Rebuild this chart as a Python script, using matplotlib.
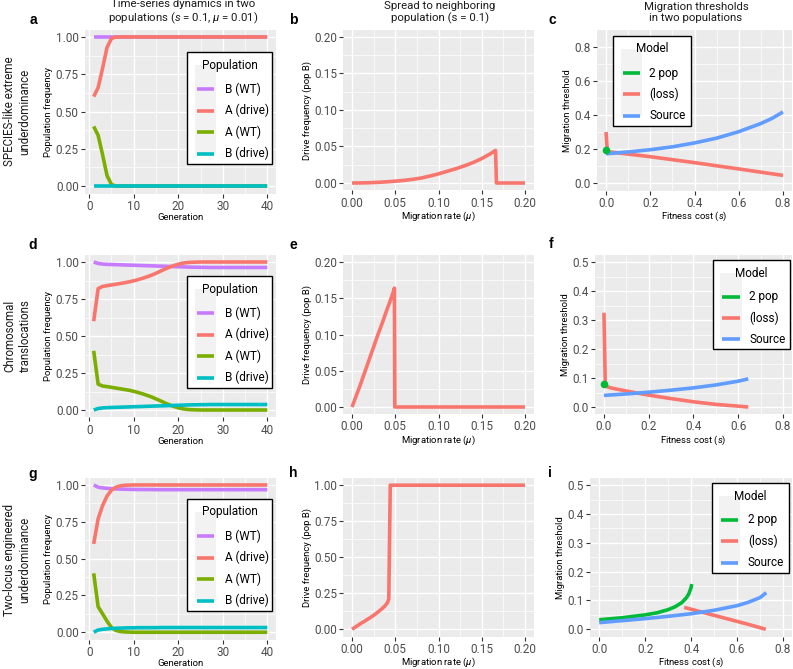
import matplotlib
matplotlib.use("Agg")
import matplotlib.pyplot as plt
from matplotlib.lines import Line2D
from matplotlib.patches import Rectangle

plt.rcParams['font.family'] = ['Roboto', 'DejaVu Sans']
plt.rcParams['mathtext.fontset'] = 'custom'
plt.rcParams['mathtext.rm'] = 'Roboto'
plt.rcParams['mathtext.it'] = 'Roboto:italic'

W, H = 793, 669

# ------------------------------------------------------------------ data
generations = list(range(1, 41))
pop_labels = ["B (WT)", "A (drive)", "A (WT)", "B (drive)"]
model_labels = ["2 pop", "(loss)", "Source"]

# panel a
a_B_WT = [1.0, 1.0, 1.0, 1.0, 1.0, 1.0, 1.0, 1.0, 1.0, 1.0,
          1.0, 1.0, 1.0, 1.0, 1.0, 1.0, 1.0, 1.0, 1.0, 1.0,
          1.0, 1.0, 1.0, 1.0, 1.0, 1.0, 1.0, 1.0, 1.0, 1.0,
          1.0, 1.0, 1.0, 1.0, 1.0, 1.0, 1.0, 1.0, 1.0, 1.0]
a_A_drive = [0.60, 0.66, 0.79, 0.93, 0.99, 1.0, 1.0, 1.0, 1.0, 1.0,
             1.0, 1.0, 1.0, 1.0, 1.0, 1.0, 1.0, 1.0, 1.0, 1.0,
             1.0, 1.0, 1.0, 1.0, 1.0, 1.0, 1.0, 1.0, 1.0, 1.0,
             1.0, 1.0, 1.0, 1.0, 1.0, 1.0, 1.0, 1.0, 1.0, 1.0]
a_A_WT = [0.40, 0.34, 0.21, 0.07, 0.01, 0.0, 0.0, 0.0, 0.0, 0.0,
          0.0, 0.0, 0.0, 0.0, 0.0, 0.0, 0.0, 0.0, 0.0, 0.0,
          0.0, 0.0, 0.0, 0.0, 0.0, 0.0, 0.0, 0.0, 0.0, 0.0,
          0.0, 0.0, 0.0, 0.0, 0.0, 0.0, 0.0, 0.0, 0.0, 0.0]
a_B_drive = [0.0, 0.0, 0.0, 0.0, 0.0, 0.0, 0.0, 0.0, 0.0, 0.0,
             0.0, 0.0, 0.0, 0.0, 0.0, 0.0, 0.0, 0.0, 0.0, 0.0,
             0.0, 0.0, 0.0, 0.0, 0.0, 0.0, 0.0, 0.0, 0.0, 0.0,
             0.0, 0.0, 0.0, 0.0, 0.0, 0.0, 0.0, 0.0, 0.0, 0.0]

# panel d
d_B_WT = [1.0, 0.990, 0.986, 0.984, 0.983, 0.982, 0.981, 0.980, 0.979, 0.978,
          0.977, 0.976, 0.975, 0.974, 0.973, 0.972, 0.971, 0.970, 0.969, 0.968,
          0.967, 0.966, 0.965, 0.965, 0.964, 0.964, 0.963, 0.963, 0.963, 0.963,
          0.963, 0.963, 0.963, 0.963, 0.963, 0.963, 0.963, 0.963, 0.963, 0.963]
d_A_drive = [0.60, 0.82, 0.835, 0.840, 0.845, 0.850, 0.855, 0.860, 0.866, 0.873,
             0.881, 0.890, 0.900, 0.911, 0.924, 0.938, 0.952, 0.965, 0.976, 0.985,
             0.992, 0.996, 0.998, 0.999, 1.0, 1.0, 1.0, 1.0, 1.0, 1.0,
             1.0, 1.0, 1.0, 1.0, 1.0, 1.0, 1.0, 1.0, 1.0, 1.0]
d_A_WT = [0.40, 0.175, 0.162, 0.158, 0.153, 0.148, 0.143, 0.138, 0.133, 0.126,
          0.118, 0.109, 0.099, 0.088, 0.075, 0.062, 0.048, 0.035, 0.024, 0.015,
          0.008, 0.004, 0.002, 0.001, 0.0, 0.0, 0.0, 0.0, 0.0, 0.0,
          0.0, 0.0, 0.0, 0.0, 0.0, 0.0, 0.0, 0.0, 0.0, 0.0]
d_B_drive = [0.0, 0.010, 0.014, 0.016, 0.017, 0.018, 0.019, 0.020, 0.021, 0.022,
             0.023, 0.024, 0.025, 0.026, 0.027, 0.028, 0.029, 0.030, 0.031, 0.032,
             0.033, 0.034, 0.035, 0.035, 0.036, 0.036, 0.037, 0.037, 0.037, 0.037,
             0.037, 0.037, 0.037, 0.037, 0.037, 0.037, 0.037, 0.037, 0.037, 0.037]

# panel g
g_B_WT = [1.0, 0.985, 0.980, 0.977, 0.975, 0.973, 0.972, 0.971, 0.970, 0.970,
          0.969, 0.969, 0.969, 0.969, 0.968, 0.968, 0.968, 0.968, 0.968, 0.968,
          0.968, 0.968, 0.968, 0.968, 0.968, 0.968, 0.968, 0.968, 0.968, 0.968,
          0.968, 0.968, 0.968, 0.968, 0.968, 0.968, 0.968, 0.968, 0.968, 0.968]
g_A_drive = [0.60, 0.77, 0.86, 0.925, 0.965, 0.985, 0.994, 0.998, 0.999, 1.0,
             1.0, 1.0, 1.0, 1.0, 1.0, 1.0, 1.0, 1.0, 1.0, 1.0,
             1.0, 1.0, 1.0, 1.0, 1.0, 1.0, 1.0, 1.0, 1.0, 1.0,
             1.0, 1.0, 1.0, 1.0, 1.0, 1.0, 1.0, 1.0, 1.0, 1.0]
g_A_WT = [0.40, 0.173, 0.125, 0.075, 0.032, 0.012, 0.005, 0.002, 0.001, 0.0,
          0.0, 0.0, 0.0, 0.0, 0.0, 0.0, 0.0, 0.0, 0.0, 0.0,
          0.0, 0.0, 0.0, 0.0, 0.0, 0.0, 0.0, 0.0, 0.0, 0.0,
          0.0, 0.0, 0.0, 0.0, 0.0, 0.0, 0.0, 0.0, 0.0, 0.0]
g_B_drive = [0.0, 0.015, 0.020, 0.023, 0.025, 0.027, 0.028, 0.029, 0.030, 0.030,
             0.031, 0.031, 0.031, 0.031, 0.031, 0.032, 0.032, 0.032, 0.032, 0.032,
             0.032, 0.032, 0.032, 0.032, 0.032, 0.032, 0.032, 0.032, 0.032, 0.032,
             0.032, 0.032, 0.032, 0.032, 0.032, 0.032, 0.032, 0.032, 0.032, 0.032]

# panel b
b_mu = [0.0, 0.01, 0.02, 0.03, 0.04, 0.05, 0.06, 0.07, 0.08, 0.09, 0.10, 0.11,
        0.12, 0.13, 0.14, 0.15, 0.16, 0.165, 0.166, 0.167, 0.20]
b_freq = [0.0, 0.0001, 0.0004, 0.0009, 0.0016, 0.0025, 0.0036, 0.0050, 0.0068,
          0.0095, 0.0125, 0.016, 0.0195, 0.0235, 0.028, 0.0335, 0.040, 0.044,
          0.0445, 0.0, 0.0]

# panel e
e_mu = [0.0, 0.005, 0.01, 0.015, 0.02, 0.025, 0.03, 0.035, 0.04, 0.044, 0.047,
        0.0485, 0.049, 0.0495, 0.20]
e_freq = [0.0, 0.016, 0.032, 0.049, 0.066, 0.083, 0.100, 0.116, 0.133, 0.146,
          0.156, 0.162, 0.164, 0.0, 0.0]

# panel h
h_mu = [0.0, 0.005, 0.01, 0.015, 0.02, 0.025, 0.03, 0.035, 0.038, 0.041, 0.0425,
        0.0442, 0.20]
h_freq = [0.0, 0.02, 0.04, 0.058, 0.077, 0.097, 0.12, 0.145, 0.162, 0.185, 0.21,
          1.0, 1.0]

# panel c
c_2pop_s = [0.0]
c_2pop_thr = [0.195]
c_loss_s = [0.0, 0.003, 0.006, 0.05, 0.2, 0.4, 0.6, 0.8]
c_loss_thr = [0.30, 0.24, 0.185, 0.178, 0.155, 0.12, 0.083, 0.045]
c_src_s = [0.0, 0.1, 0.2, 0.3, 0.4, 0.5, 0.6, 0.7, 0.75, 0.8]
c_src_thr = [0.172, 0.183, 0.196, 0.213, 0.236, 0.264, 0.302, 0.350, 0.380, 0.418]

# panel f
f_2pop_s = [0.0]
f_2pop_thr = [0.079]
f_loss_s = [0.0, 0.003, 0.006, 0.03, 0.1, 0.2, 0.3, 0.4, 0.5, 0.6, 0.645]
f_loss_thr = [0.325, 0.20, 0.072, 0.066, 0.055, 0.041, 0.029, 0.018, 0.009, 0.003, 0.0]
f_src_s = [0.0, 0.1, 0.2, 0.3, 0.4, 0.5, 0.6, 0.645]
f_src_thr = [0.040, 0.045, 0.051, 0.058, 0.066, 0.076, 0.089, 0.097]

# panel i
i_2pop_s = [0.0, 0.1, 0.2, 0.25, 0.3, 0.33, 0.36, 0.38, 0.39, 0.40, 0.403]
i_2pop_thr = [0.033, 0.040, 0.050, 0.057, 0.068, 0.078, 0.093, 0.110, 0.123, 0.145, 0.157]
i_loss_s = [0.37, 0.45, 0.55, 0.65, 0.725]
i_loss_thr = [0.076, 0.059, 0.038, 0.017, 0.0]
i_src_s = [0.0, 0.1, 0.2, 0.3, 0.4, 0.5, 0.6, 0.65, 0.7, 0.727]
i_src_thr = [0.023, 0.030, 0.037, 0.045, 0.054, 0.066, 0.082, 0.094, 0.110, 0.127]

# ------------------------------------------------------------------ style
POP_COL = {"B (WT)": "#C77CFF", "A (drive)": "#F8766D",
           "A (WT)": "#7CAE00", "B (drive)": "#00BFC4"}
MOD_COL = {"2 pop": "#00BA38", "(loss)": "#F8766D", "Source": "#619CFF"}
LW = 2.6

fig = plt.figure(figsize=(W / 100, H / 100), dpi=100)
fig.patch.set_facecolor("white")


def fx(px):
    return px / W


def fy(py):
    return 1 - py / H


def make_ax(l, t, r, b):
    return fig.add_axes([fx(l), fy(b), (r - l) / W, (b - t) / H])


def style(ax, xlim, ylim, xmaj, xmin, ymaj, ymin, xfmt, yfmt, xlabel, ylabel):
    ax.set_facecolor("#EBEBEB")
    for sp in ax.spines.values():
        sp.set_visible(False)
    ax.set_xlim(*xlim)
    ax.set_ylim(*ylim)
    ax.set_xticks(xmaj)
    ax.set_xticks(xmin, minor=True)
    ax.set_yticks(ymaj)
    ax.set_yticks(ymin, minor=True)
    ax.set_xticklabels([xfmt.format(v) for v in xmaj])
    ax.set_yticklabels([yfmt.format(v) for v in ymaj])
    ax.grid(which="major", color="white", lw=1.0)
    ax.grid(which="minor", color="white", lw=0.5)
    ax.set_axisbelow(True)
    ax.tick_params(which="major", length=3, width=0.8, color="#333333",
                   labelcolor="#4D4D4D", labelsize=8.5, pad=1.5)
    ax.tick_params(which="minor", length=0)
    ax.set_xlabel(xlabel, fontsize=6.8, labelpad=0)
    ax.set_ylabel(ylabel, fontsize=6.8, labelpad=1.8)


def legend(l, t, r, title, labels, colors, keyx0, keyx1, labx, step):
    n = len(labels)
    bottom = t + 25 + step * (n - 1) + 22
    fig.add_artist(Rectangle((fx(l), fy(bottom)), (r - l) / W, (bottom - t) / H,
                             transform=fig.transFigure, facecolor="white",
                             edgecolor="black", lw=1.0, zorder=10))
    fig.text(fx((l + r) / 2), fy(t + 13), title, ha="center", va="center",
             fontsize=8.5, zorder=11)
    fig.add_artist(Rectangle((fx(keyx0), fy(t + 25 + step * (n - 1) + 12)),
                             (keyx1 - keyx0) / W, (step * (n - 1) + 24) / H,
                             transform=fig.transFigure, facecolor="#F2F2F2",
                             edgecolor="none", zorder=11))
    for k, (lab, col) in enumerate(zip(labels, colors)):
        yk = t + 37 + step * k
        fig.add_artist(Line2D([fx(keyx0 + 2), fx(keyx1 - 2)], [fy(yk), fy(yk)],
                              transform=fig.transFigure, color=col, lw=LW,
                              solid_capstyle="butt", zorder=12))
        fig.text(fx(labx), fy(yk), lab, ha="left", va="center", fontsize=8.5,
                 zorder=12)


gen_ticks = [0, 10, 20, 30, 40]
gen_minor = [5, 15, 25, 35]
pf_ticks = [0.0, 0.25, 0.5, 0.75, 1.0]
pf_minor = [0.125, 0.375, 0.625, 0.875]
mu_ticks = [0.0, 0.05, 0.10, 0.15, 0.20]
mu_minor = [0.025, 0.075, 0.125, 0.175]
s_ticks = [0.0, 0.2, 0.4, 0.6, 0.8]
s_minor = [0.1, 0.3, 0.5, 0.7]

# ---------------- column 1: time series
ts_sets = [
    ((85, 29.5, 276, 193.5), [a_B_WT, a_A_drive, a_A_WT, a_B_drive], 52),
    ((85, 254.6, 276, 417.4), [d_B_WT, d_A_drive, d_A_WT, d_B_drive], 276),
    ((85, 477.6, 276, 639.6), [g_B_WT, g_A_drive, g_A_WT, g_B_drive], 499),
]
for box, series, lt in ts_sets:
    ax = make_ax(*box)
    style(ax, (-0.95, 41.95), (-0.05, 1.05), gen_ticks, gen_minor,
          pf_ticks, pf_minor, "{:.0f}", "{:.2f}", "Generation",
          "Population frequency")
    for lab, vals in zip(pop_labels, series):
        ax.plot(generations, vals, color=POP_COL[lab], lw=LW,
                solid_capstyle="butt", solid_joinstyle="round")
    legend(187, lt, 272, "Population", pop_labels,
           [POP_COL[l] for l in pop_labels], 195, 216, 225, 21.5)

# ---------------- column 2: spread
sp_sets = [
    ((343.4, 29.7, 533.6, 190.3), b_mu, b_freq, (-0.01, 0.21),
     [0.0, 0.05, 0.10, 0.15, 0.20], [0.025, 0.075, 0.125, 0.175]),
    ((343.4, 254.75, 533.6, 414.25), e_mu, e_freq, (-0.01, 0.21),
     [0.0, 0.05, 0.10, 0.15, 0.20], [0.025, 0.075, 0.125, 0.175]),
    ((343.4, 478.0, 533.6, 636.5), h_mu, h_freq, (-0.05, 1.05),
     pf_ticks, pf_minor),
]
for box, xs, ys, ylim, yt, ym in sp_sets:
    ax = make_ax(*box)
    style(ax, (-0.01, 0.21), ylim, mu_ticks, mu_minor, yt, ym,
          "{:.2f}", "{:.2f}", r"Migration rate ($\mu$)",
          "Drive frequency (pop B)")
    ax.plot(xs, ys, color="#F8766D", lw=LW, solid_capstyle="butt",
            solid_joinstyle="round")

# ---------------- column 3: thresholds
th_sets = [
    ((597.2, 30, 791.8, 190.7), (-0.045, 0.9), [0.0, 0.2, 0.4, 0.6, 0.8],
     [0.1, 0.3, 0.5, 0.7],
     (c_2pop_s, c_2pop_thr), (c_loss_s, c_loss_thr), (c_src_s, c_src_thr),
     (613, 36, 691, 621, 642, 649)),
    ((595, 254.75, 791.9, 414.25), (-0.025, 0.525),
     [0.0, 0.1, 0.2, 0.3, 0.4, 0.5], [0.05, 0.15, 0.25, 0.35, 0.45],
     (f_2pop_s, f_2pop_thr), (f_loss_s, f_loss_thr), (f_src_s, f_src_thr),
     (713, 260, 790, 720, 742, 749)),
    ((590, 478.0, 792.2, 636.5), (-0.025, 0.525),
     [0.0, 0.1, 0.2, 0.3, 0.4, 0.5], [0.05, 0.15, 0.25, 0.35, 0.45],
     (i_2pop_s, i_2pop_thr), (i_loss_s, i_loss_thr), (i_src_s, i_src_thr),
     (712, 483, 789, 719, 740, 748)),
]
for box, ylim, yt, ym, two, loss, src, lg in th_sets:
    ax = make_ax(*box)
    style(ax, (-0.04, 0.84), ylim, s_ticks, s_minor, yt, ym,
          "{:.1f}", "{:.1f}", r"Fitness cost ($s$)", "Migration threshold")
    if len(two[0]) > 1:
        ax.plot(two[0], two[1], color=MOD_COL["2 pop"], lw=LW,
                solid_capstyle="butt")
    ax.plot(loss[0], loss[1], color=MOD_COL["(loss)"], lw=LW,
            solid_capstyle="butt", solid_joinstyle="round")
    ax.plot(src[0], src[1], color=MOD_COL["Source"], lw=LW,
            solid_capstyle="butt", solid_joinstyle="round")
    if len(two[0]) == 1:
        ax.plot(two[0], two[1], "o", color=MOD_COL["2 pop"], ms=4.5,
                zorder=5)
    l, t, r, k0, k1, lx = lg
    legend(l, t, r, "Model", model_labels,
           [MOD_COL[m] for m in model_labels], k0, k1, lx, 21.25)

# ---------------- titles and labels
col_titles = [(183, "Time-series dynamics in two\npopulations ($s$ = 0.1, $\\mu$ = 0.01)"),
              (440, "Spread to neighboring\npopulation (s = 0.1)"),
              (696, "Migration thresholds\nin two populations")]
for x, txt in col_titles:
    fig.text(fx(x), fy(12.5), txt, ha="center", va="center", fontsize=8.2,
             linespacing=1.15, color="#1A1A1A")

row_titles = [(111.5, "SPECIES-like extreme\nunderdominance"),
              (336, "Chromosomal\ntranslocations"),
              (560, "Two-locus engineered\nunderdominance")]
for y, txt in row_titles:
    fig.text(fx(17.5), fy(y), txt, ha="center", va="center", rotation=90,
             fontsize=8.3, linespacing=1.25, color="#1A1A1A")

letters = [("a", 33, 20), ("b", 293, 20), ("c", 552, 20),
           ("d", 33, 245), ("e", 293, 245), ("f", 551, 244),
           ("g", 33, 474), ("h", 293, 473), ("i", 550, 473)]
for lab, x, y in letters:
    fig.text(fx(x), fy(y), lab, ha="center", va="center", fontsize=10,
             fontweight="bold", family=["Liberation Sans", "DejaVu Sans"])

fig.savefig("out.png", dpi=100)
